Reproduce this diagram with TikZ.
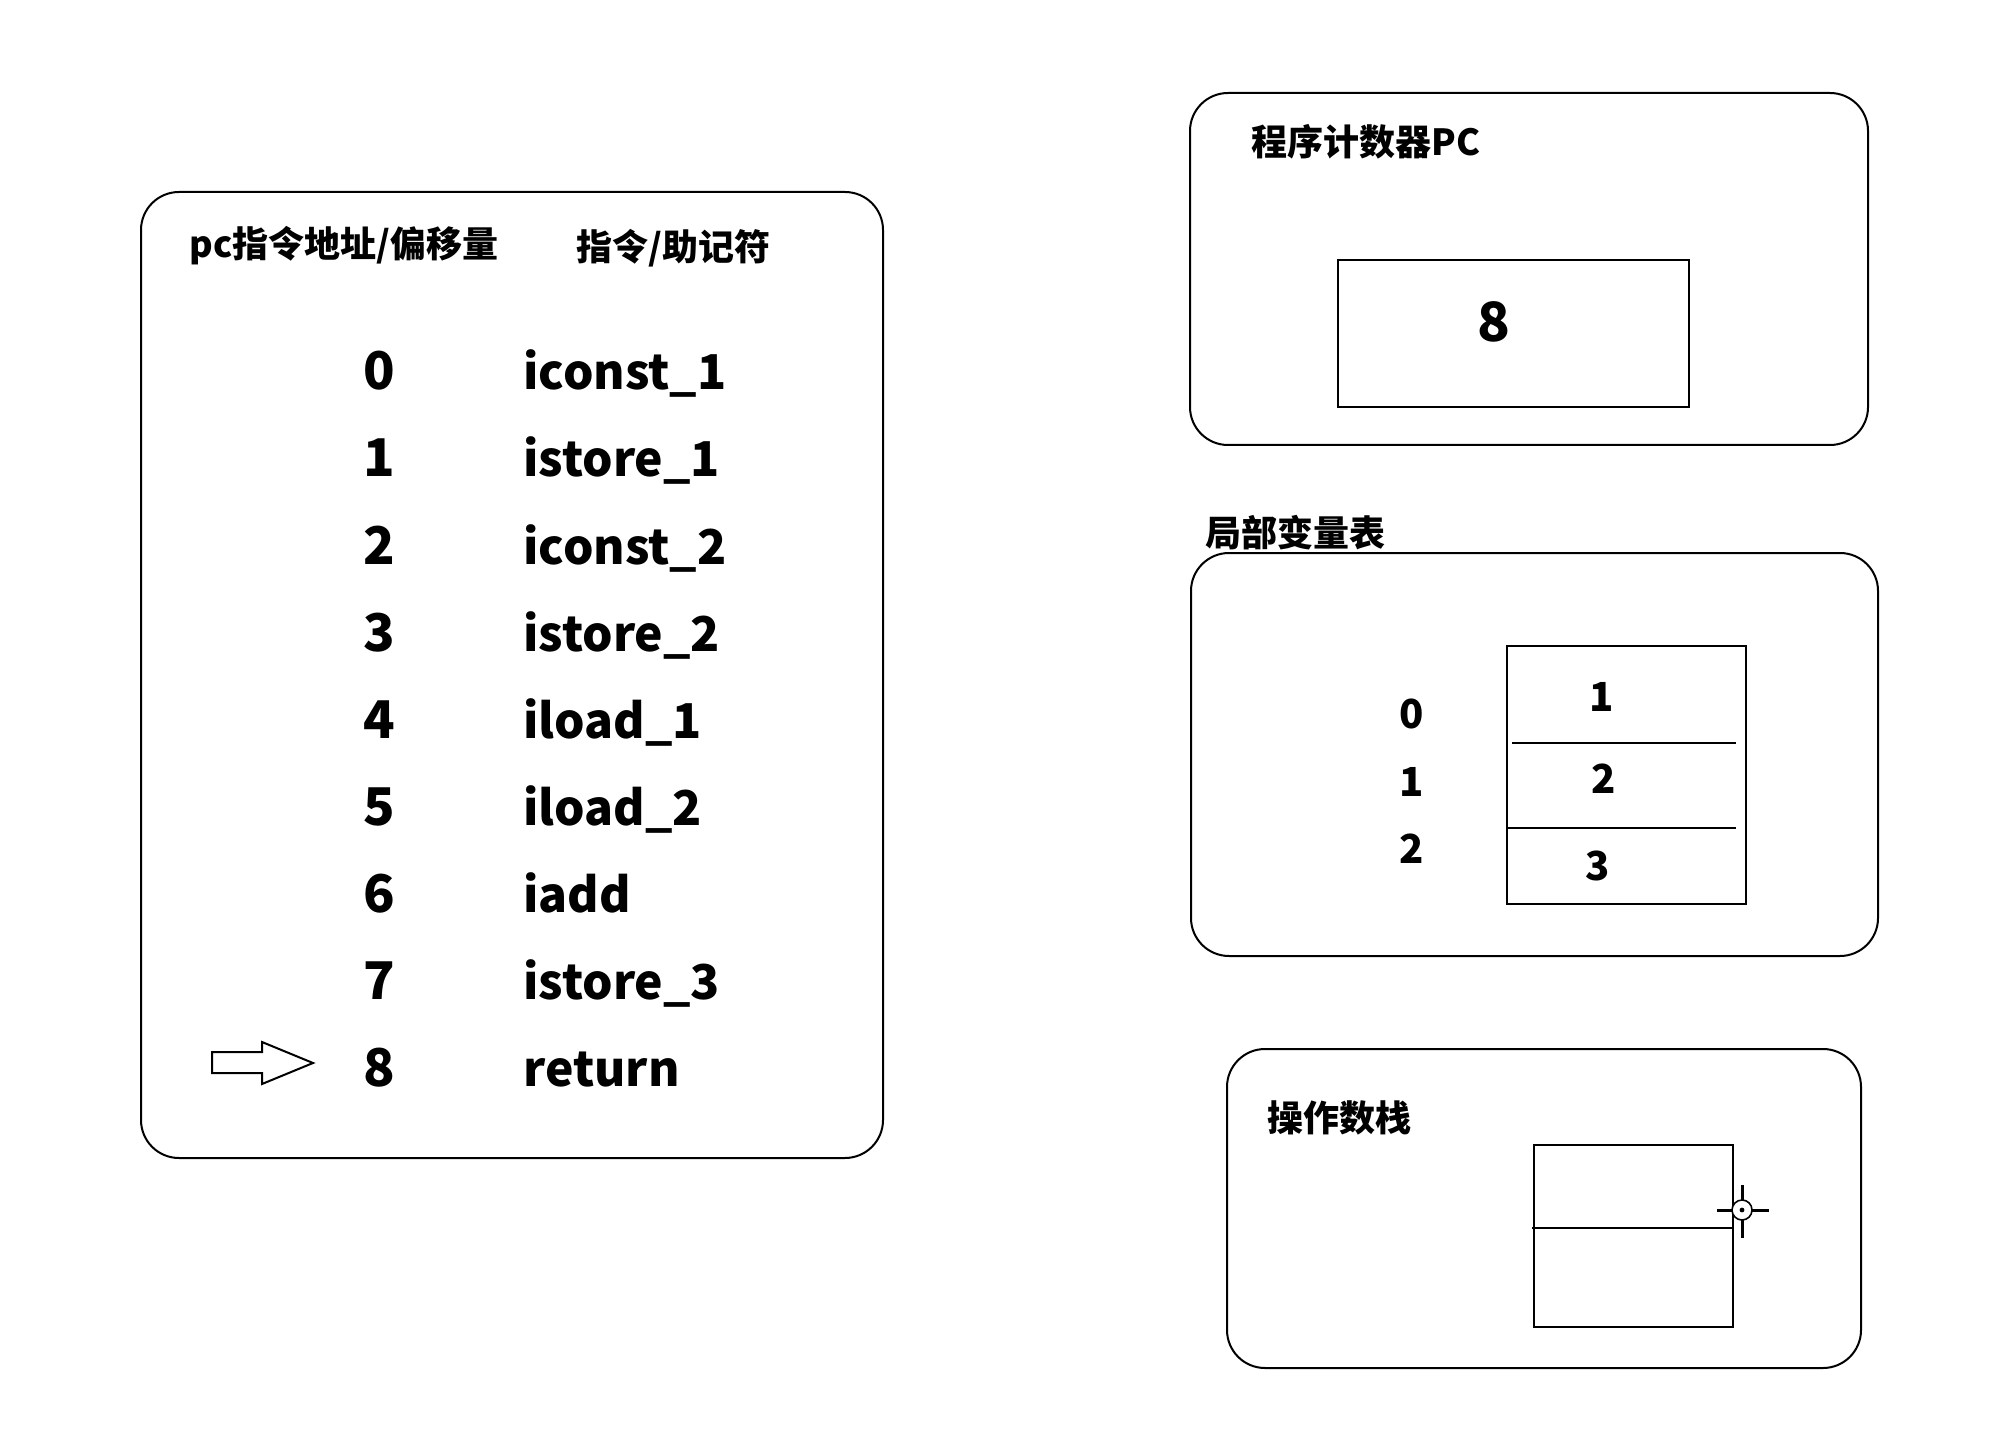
\documentclass[tikz,border=0pt]{standalone}
\usepackage{fontspec}
\setmainfont{Noto Sans CJK SC}
\begin{document}
\begin{tikzpicture}[x=0.5pt,y=-0.5pt,
  panel/.style={draw=black,line width=1pt,rounded corners=19pt,rectangle,inner sep=0pt},
  cell/.style={draw=black,line width=1pt,rectangle,inner sep=0pt},
  hdr/.style={anchor=west,inner sep=0pt,font=\fontsize{18pt}{20pt}\selectfont\bfseries},
  num/.style={anchor=base,inner sep=0pt,font=\fontsize{26pt}{28pt}\selectfont\bfseries},
  ins/.style={anchor=base west,inner sep=0pt,font=\fontsize{24pt}{26pt}\selectfont\bfseries},
  small/.style={anchor=center,inner sep=0pt,font=\fontsize{20pt}{22pt}\selectfont\bfseries},
  thin/.style={line width=1pt}]
\useasboundingbox (0,0) rectangle (2006,1454);
\fill[white] (0,0) rectangle (2006,1454);

% code panel
\node[panel,minimum width=371pt,minimum height=483pt] (code) at (512,675) {};
\node[hdr] (h1) at (189,246) {pc指令地址/偏移量};
\node[hdr] (h2) at (576,248) {指令/助记符};
\foreach \i/\t [count=\k from 0] in {0/iconst\_1,1/istore\_1,2/iconst\_2,3/istore\_2,4/iload\_1,5/iload\_2,6/iadd,7/istore\_3,8/return}{
  \node[num] (n\i) at (379,{390+87*\k}) {\i};
  \node[ins] (t\i) at (523,{390+87*\k}) {\t};
}
\draw[thin,fill=white] (212,1052) -- (262,1052) -- (262,1042) -- (313,1063) -- (262,1084) -- (262,1073) -- (212,1073) -- cycle;

% program counter
\node[panel,minimum width=339pt,minimum height=176pt] (pc) at (1529,269) {};
\node[hdr] (pct) at (1251,142) {程序计数器PC};
\node[cell,minimum width=175.5pt,minimum height=73.5pt] (pcv) at (1513.5,333.5) {};
\node[anchor=center,inner sep=0pt,font=\fontsize{27pt}{29pt}\selectfont\bfseries] (eight) at (1494,322) {8};

% local variable table
\node[panel,minimum width=343.5pt,minimum height=201.5pt] (lv) at (1534.5,754.5) {};
\node[hdr] (lvt) at (1205,533) {局部变量表};
\node[cell,minimum width=119.5pt,minimum height=129pt] (lvc) at (1626.5,775) {};
\draw[thin] (1512,743) -- (1736,743);
\draw[thin] (1507,828) -- (1736,828);
\node[small] (i0) at (1412,714) {0};
\node[small] (i1) at (1412,782) {1};
\node[small] (i2) at (1412,849) {2};
\node[small] (v1) at (1602,697) {1};
\node[small] (v2) at (1604,779) {2};
\node[small] (v3) at (1598,866) {3};

% operand stack
\node[panel,minimum width=317pt,minimum height=159.5pt] (os) at (1544,1208.5) {};
\node[hdr] (ost) at (1267,1118) {操作数栈};
\node[cell,minimum width=99.5pt,minimum height=91pt] (osc) at (1633.5,1236) {};
\draw[thin] (1532,1228) -- (1733,1228);

% cursor
\draw[line width=1.5pt] (1717,1210) -- (1769,1210);
\draw[line width=1.5pt] (1742,1185) -- (1742,1238);
\draw[line width=0.8pt,fill=white] (1742,1210) circle (5pt);
\fill (1742,1210) circle (1.2pt);
\end{tikzpicture}
\end{document}
